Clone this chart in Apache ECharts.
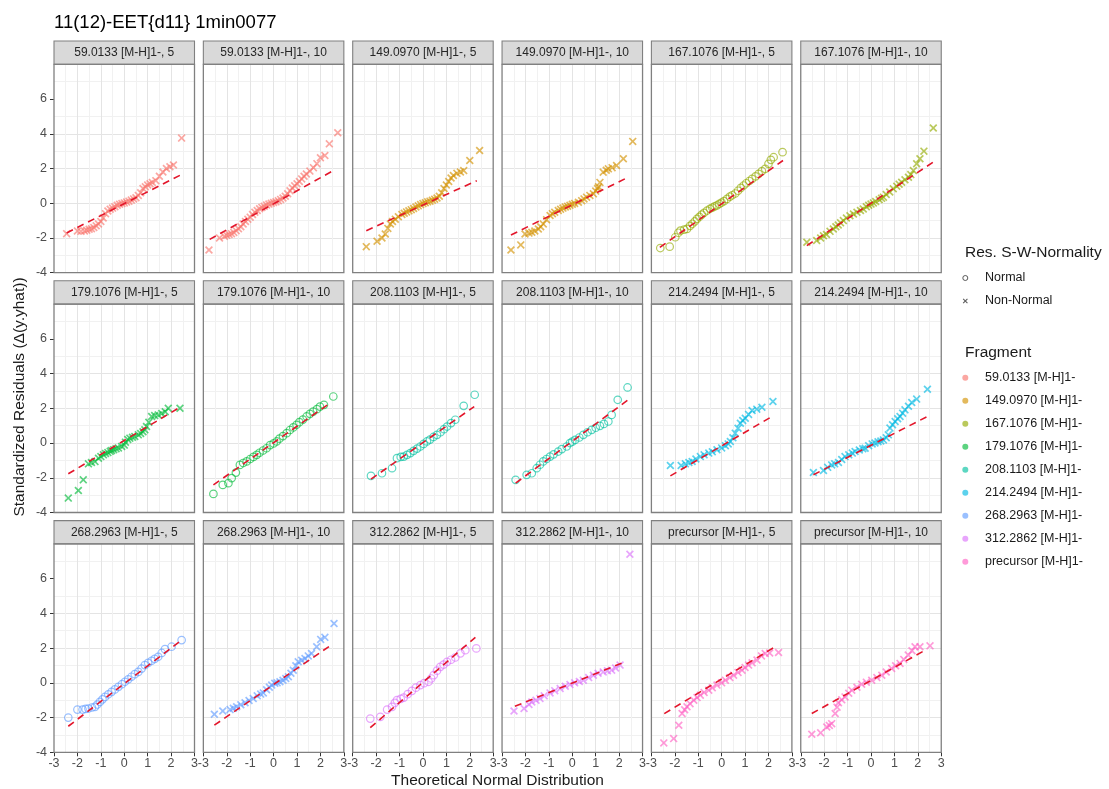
<!DOCTYPE html>
<html><head><meta charset="utf-8">
<script src="https://cdn.jsdelivr.net/npm/echarts@6/dist/echarts.min.js"></script>
<style>html,body{margin:0;padding:0;background:#fff}#c{width:1109px;height:789px}</style>
</head><body><div id="c"></div>
<script>
// ---------------- data ----------------
const chartTitle = '11(12)-EET{d11} 1min0077';
const xAxisTitle = 'Theoretical Normal Distribution';
const yAxisTitle = 'Standardized Residuals (\u0394(y.yhat))';
const fragments = ['59.0133 [M-H]1-','149.0970 [M-H]1-','167.1076 [M-H]1-','179.1076 [M-H]1-','208.1103 [M-H]1-','214.2494 [M-H]1-','268.2963 [M-H]1-','312.2862 [M-H]1-','precursor [M-H]1-'];
const replicates = [5, 10];
const normalityLevels = ['Normal', 'Non-Normal'];
// normality of each panel, panel order: fragment x replicate
const panelNormality = ['Non-Normal','Non-Normal','Non-Normal','Non-Normal','Normal','Non-Normal','Non-Normal','Normal','Normal','Normal','Non-Normal','Non-Normal','Normal','Non-Normal','Normal','Non-Normal','Non-Normal','Non-Normal'];
const xTicks = [-3,-2,-1,0,1,2,3];
const yTicks = [-4,-2,0,2,4,6];

// [theoretical quantile, standardized residual]
const qq_59_5 = [[-2.46,-1.75],[-2.0,-1.6],[-1.85,-1.62],[-1.7,-1.6],[-1.6,-1.55],[-1.5,-1.5],[-1.4,-1.47],[-1.3,-1.4],[-1.2,-1.3],[-1.1,-1.2],[-1.0,-1.05],[-0.9,-0.85],[-0.8,-0.6],[-0.7,-0.45],[-0.6,-0.35],[-0.5,-0.28],[-0.4,-0.2],[-0.3,-0.12],[-0.2,-0.06],[-0.1,-0.02],[0.0,0.02],[0.1,0.07],[0.2,0.12],[0.3,0.18],[0.4,0.25],[0.5,0.32],[0.6,0.45],[0.7,0.6],[0.8,0.85],[0.9,0.95],[1.0,1.05],[1.1,1.12],[1.2,1.2],[1.35,1.3],[1.5,1.55],[1.65,1.8],[1.8,2.0],[1.95,2.1],[2.1,2.2],[2.45,3.75]];
const qq_59_10 = [[-2.76,-2.69],[-2.31,-2.0],[-2.1,-1.9],[-2.0,-1.85],[-1.9,-1.8],[-1.8,-1.75],[-1.7,-1.68],[-1.6,-1.58],[-1.5,-1.47],[-1.4,-1.35],[-1.3,-1.2],[-1.2,-1.05],[-1.1,-0.92],[-1.0,-0.8],[-0.9,-0.65],[-0.8,-0.52],[-0.7,-0.42],[-0.6,-0.32],[-0.5,-0.24],[-0.4,-0.17],[-0.3,-0.1],[-0.2,-0.05],[-0.1,0.0],[0.0,0.04],[0.1,0.08],[0.2,0.14],[0.3,0.22],[0.4,0.3],[0.5,0.4],[0.6,0.55],[0.7,0.72],[0.8,0.88],[0.9,1.0],[1.0,1.12],[1.1,1.25],[1.2,1.4],[1.3,1.55],[1.4,1.68],[1.55,1.85],[1.7,2.05],[1.85,2.28],[2.0,2.62],[2.19,2.75],[2.38,3.42],[2.74,4.06]];
const qq_149_5 = [[-2.42,-2.5],[-1.96,-2.19],[-1.75,-2.0],[-1.61,-1.77],[-1.5,-1.45],[-1.39,-1.2],[-1.3,-1.05],[-1.18,-0.92],[-1.05,-0.78],[-0.9,-0.65],[-0.8,-0.58],[-0.7,-0.5],[-0.6,-0.44],[-0.5,-0.37],[-0.4,-0.3],[-0.3,-0.22],[-0.2,-0.15],[-0.1,-0.08],[0.0,-0.02],[0.1,0.03],[0.2,0.08],[0.3,0.12],[0.4,0.17],[0.5,0.23],[0.6,0.3],[0.7,0.4],[0.8,0.6],[0.9,0.85],[1.0,1.05],[1.1,1.25],[1.2,1.45],[1.3,1.6],[1.45,1.72],[1.6,1.8],[1.74,1.88],[2.0,2.46],[2.42,3.04]];
const qq_149_10 = [[-2.62,-2.69],[-2.2,-2.4],[-2.02,-1.77],[-1.85,-1.72],[-1.73,-1.67],[-1.6,-1.6],[-1.45,-1.48],[-1.35,-1.35],[-1.24,-1.19],[-1.1,-0.95],[-0.95,-0.71],[-0.85,-0.6],[-0.75,-0.52],[-0.6,-0.42],[-0.5,-0.35],[-0.4,-0.28],[-0.3,-0.22],[-0.2,-0.17],[-0.1,-0.12],[0.0,-0.06],[0.1,-0.01],[0.26,0.06],[0.4,0.15],[0.5,0.25],[0.61,0.35],[0.75,0.45],[0.9,0.54],[1.0,0.7],[1.08,0.85],[1.12,0.95],[1.18,1.2],[1.32,1.79],[1.45,1.9],[1.54,1.98],[1.7,2.05],[1.89,2.17],[2.18,2.56],[2.58,3.56]];
const qq_167_5 = [[-2.62,-2.58],[-2.22,-2.5],[-1.98,-1.96],[-1.85,-1.7],[-1.76,-1.58],[-1.6,-1.52],[-1.48,-1.48],[-1.35,-1.3],[-1.25,-1.18],[-1.15,-1.05],[-1.05,-0.9],[-0.95,-0.78],[-0.85,-0.66],[-0.75,-0.55],[-0.62,-0.42],[-0.5,-0.32],[-0.4,-0.25],[-0.3,-0.18],[-0.2,-0.12],[-0.1,-0.04],[0.0,0.04],[0.1,0.12],[0.23,0.25],[0.35,0.38],[0.45,0.46],[0.58,0.56],[0.7,0.72],[0.82,0.88],[0.94,1.02],[1.05,1.15],[1.18,1.28],[1.3,1.4],[1.45,1.55],[1.58,1.69],[1.72,1.85],[1.86,1.98],[2.0,2.27],[2.1,2.5],[2.22,2.65],[2.6,2.94]];
const qq_167_10 = [[-2.74,-2.25],[-2.32,-2.15],[-2.15,-2.0],[-2.03,-1.87],[-1.9,-1.8],[-1.75,-1.62],[-1.61,-1.48],[-1.5,-1.35],[-1.4,-1.25],[-1.3,-1.13],[-1.18,-1.0],[-1.05,-0.85],[-0.9,-0.72],[-0.75,-0.62],[-0.6,-0.52],[-0.45,-0.42],[-0.33,-0.33],[-0.2,-0.2],[-0.1,-0.12],[0.0,-0.05],[0.1,0.02],[0.2,0.1],[0.35,0.2],[0.45,0.28],[0.53,0.35],[0.65,0.5],[0.8,0.65],[0.95,0.83],[1.1,0.98],[1.2,1.1],[1.31,1.21],[1.45,1.35],[1.6,1.5],[1.7,1.65],[1.81,1.88],[1.95,2.27],[2.09,2.56],[2.26,3.0],[2.66,4.33]];
const qq_179_5 = [[-2.39,-3.17],[-1.96,-2.73],[-1.75,-2.12],[-1.53,-1.2],[-1.4,-1.12],[-1.25,-1.07],[-1.1,-0.88],[-1.0,-0.78],[-0.89,-0.68],[-0.8,-0.6],[-0.7,-0.55],[-0.6,-0.48],[-0.54,-0.43],[-0.45,-0.38],[-0.35,-0.33],[-0.25,-0.28],[-0.11,-0.2],[0.0,-0.12],[0.05,0.05],[0.15,0.2],[0.24,0.28],[0.35,0.33],[0.45,0.38],[0.6,0.47],[0.7,0.55],[0.8,0.65],[0.88,0.76],[0.95,0.95],[1.05,1.2],[1.17,1.53],[1.3,1.58],[1.45,1.62],[1.6,1.7],[1.75,1.8],[1.88,2.0],[2.38,2.0]];
const qq_179_10 = [[-2.57,-2.93],[-2.17,-2.41],[-1.93,-2.31],[-1.79,-2.02],[-1.61,-1.7],[-1.44,-1.26],[-1.3,-1.15],[-1.15,-1.06],[-1.0,-0.92],[-0.86,-0.8],[-0.72,-0.68],[-0.6,-0.56],[-0.45,-0.43],[-0.3,-0.3],[-0.15,-0.12],[0.0,-0.02],[0.13,0.09],[0.25,0.25],[0.4,0.4],[0.56,0.57],[0.7,0.75],[0.84,0.9],[0.98,1.05],[1.1,1.2],[1.25,1.35],[1.41,1.53],[1.55,1.68],[1.69,1.81],[1.85,1.95],[1.98,2.1],[2.15,2.2],[2.55,2.68]];
const qq_208_5 = [[-2.22,-1.89],[-1.75,-1.74],[-1.32,-1.45],[-1.11,-0.87],[-0.95,-0.8],[-0.82,-0.78],[-0.68,-0.68],[-0.54,-0.58],[-0.4,-0.45],[-0.25,-0.32],[-0.11,-0.2],[0.03,-0.05],[0.17,0.09],[0.3,0.2],[0.45,0.35],[0.6,0.47],[0.75,0.62],[0.9,0.8],[1.03,0.95],[1.2,1.15],[1.38,1.34],[1.74,2.14],[2.21,2.78]];
const qq_208_10 = [[-2.42,-2.12],[-1.95,-1.83],[-1.73,-1.74],[-1.52,-1.45],[-1.38,-1.25],[-1.24,-1.06],[-1.1,-0.92],[-0.95,-0.78],[-0.8,-0.65],[-0.6,-0.49],[-0.45,-0.35],[-0.24,-0.2],[-0.1,0.0],[0.0,0.08],[0.12,0.18],[0.3,0.32],[0.47,0.47],[0.65,0.62],[0.83,0.76],[1.0,0.88],[1.18,0.99],[1.35,1.1],[1.54,1.24],[1.68,1.62],[1.94,2.49],[2.36,3.2]];
const qq_214_5 = [[-2.19,-1.29],[-1.73,-1.29],[-1.55,-1.2],[-1.4,-1.12],[-1.26,-1.06],[-1.1,-0.92],[-0.91,-0.78],[-0.75,-0.68],[-0.55,-0.58],[-0.4,-0.5],[-0.2,-0.39],[0.0,-0.28],[0.16,-0.16],[0.28,-0.05],[0.37,0.09],[0.48,0.3],[0.58,0.57],[0.7,0.85],[0.8,1.14],[0.9,1.3],[1.01,1.43],[1.15,1.65],[1.3,1.87],[1.5,1.95],[1.72,2.06],[2.19,2.39]];
const qq_214_10 = [[-2.46,-1.7],[-2.03,-1.58],[-1.85,-1.4],[-1.68,-1.26],[-1.55,-1.2],[-1.39,-1.12],[-1.25,-0.95],[-1.11,-0.78],[-0.95,-0.68],[-0.8,-0.58],[-0.68,-0.49],[-0.5,-0.4],[-0.35,-0.33],[-0.25,-0.3],[-0.1,-0.15],[0.05,-0.05],[0.17,0.0],[0.3,0.07],[0.42,0.12],[0.53,0.18],[0.65,0.3],[0.74,0.47],[0.81,0.86],[0.92,1.05],[1.03,1.24],[1.14,1.4],[1.24,1.53],[1.35,1.72],[1.45,1.91],[1.6,2.12],[1.74,2.33],[1.95,2.53],[2.41,3.1]];
const qq_268_5 = [[-2.39,-2.0],[-2.0,-1.54],[-1.78,-1.54],[-1.65,-1.5],[-1.53,-1.48],[-1.38,-1.42],[-1.25,-1.38],[-1.15,-1.25],[-1.04,-1.1],[-0.93,-0.95],[-0.82,-0.81],[-0.68,-0.66],[-0.54,-0.52],[-0.4,-0.38],[-0.25,-0.23],[-0.1,-0.08],[0.03,0.06],[0.17,0.2],[0.31,0.35],[0.45,0.5],[0.6,0.63],[0.74,0.82],[0.88,1.02],[1.02,1.15],[1.17,1.27],[1.3,1.38],[1.45,1.5],[1.6,1.72],[1.74,1.94],[2.02,2.08],[2.45,2.46]];
const qq_268_10 = [[-2.53,-1.81],[-2.17,-1.62],[-1.86,-1.54],[-1.72,-1.46],[-1.58,-1.38],[-1.4,-1.26],[-1.22,-1.15],[-1.05,-1.02],[-0.87,-0.9],[-0.7,-0.75],[-0.55,-0.65],[-0.44,-0.58],[-0.3,-0.4],[-0.18,-0.25],[-0.08,-0.13],[0.05,-0.03],[0.15,0.0],[0.27,0.06],[0.4,0.15],[0.52,0.25],[0.63,0.35],[0.74,0.55],[0.84,0.73],[0.95,0.98],[1.05,1.21],[1.2,1.3],[1.34,1.4],[1.48,1.55],[1.62,1.69],[1.84,2.08],[2.01,2.5],[2.19,2.62],[2.58,3.42]];
const qq_312_5 = [[-2.25,-2.06],[-1.82,-1.96],[-1.53,-1.54],[-1.32,-1.38],[-1.2,-1.15],[-1.11,-1.0],[-0.95,-0.92],[-0.82,-0.85],[-0.65,-0.65],[-0.47,-0.46],[-0.3,-0.28],[-0.11,-0.13],[0.05,-0.02],[0.24,0.06],[0.35,0.25],[0.46,0.44],[0.6,0.7],[0.74,0.92],[0.88,1.05],[1.03,1.21],[1.2,1.33],[1.38,1.46],[1.6,1.7],[1.81,1.88],[2.28,1.98]];
const qq_312_10 = [[-2.49,-1.62],[-2.06,-1.48],[-1.85,-1.25],[-1.73,-1.1],[-1.55,-1.0],[-1.38,-0.9],[-1.2,-0.75],[-0.95,-0.58],[-0.75,-0.45],[-0.52,-0.33],[-0.3,-0.2],[-0.1,-0.1],[0.1,0.0],[0.3,0.08],[0.47,0.15],[0.7,0.3],[0.9,0.44],[1.1,0.55],[1.32,0.63],[1.5,0.7],[1.68,0.73],[1.85,0.85],[2.04,1.02],[2.46,7.4]];
const qq_prec_5 = [[-2.47,-3.46],[-2.05,-3.21],[-1.83,-2.44],[-1.69,-1.77],[-1.58,-1.55],[-1.48,-1.38],[-1.35,-1.2],[-1.19,-1.0],[-1.05,-0.85],[-0.91,-0.71],[-0.75,-0.55],[-0.55,-0.42],[-0.4,-0.28],[-0.2,-0.13],[0.0,0.0],[0.16,0.15],[0.35,0.3],[0.51,0.44],[0.7,0.6],[0.87,0.73],[1.0,0.88],[1.15,1.02],[1.3,1.15],[1.51,1.31],[1.7,1.55],[1.86,1.69],[2.05,1.72],[2.43,1.75]];
const qq_prec_10 = [[-2.53,-2.96],[-2.15,-2.88],[-1.89,-2.54],[-1.78,-2.45],[-1.68,-2.35],[-1.53,-1.77],[-1.45,-1.4],[-1.39,-1.15],[-1.25,-0.98],[-1.11,-0.81],[-0.95,-0.6],[-0.82,-0.42],[-0.6,-0.25],[-0.4,-0.08],[-0.2,0.04],[0.03,0.15],[0.25,0.3],[0.46,0.44],[0.65,0.62],[0.88,0.83],[1.05,0.98],[1.24,1.12],[1.4,1.35],[1.59,1.6],[1.75,1.85],[1.88,2.08],[2.09,2.08],[2.52,2.13]];
const panelPoints = [qq_59_5, qq_59_10, qq_149_5, qq_149_10, qq_167_5, qq_167_10, qq_179_5, qq_179_10, qq_208_5, qq_208_10, qq_214_5, qq_214_10, qq_268_5, qq_268_10, qq_312_5, qq_312_10, qq_prec_5, qq_prec_10];
// reference lines: [x1, y1, x2, y2]
const qqLines = [[-2.46,-1.71,2.5,1.69],[-2.73,-2.08,2.55,1.88],[-2.42,-1.58,2.3,1.3],[-2.62,-1.83,2.39,1.5],[-2.64,-2.54,2.62,2.46],[-2.74,-2.44,2.66,2.37],[-2.39,-1.77,2.38,2.06],[-2.57,-2.41,2.41,2.3],[-2.22,-2.08,2.19,2.1],[-2.42,-2.31,2.39,2.49],[-2.19,-1.89,2.15,1.53],[-2.46,-1.83,2.41,1.53],[-2.39,-2.5,2.45,2.46],[-2.53,-2.44,2.45,2.17],[-2.25,-2.58,2.24,2.62],[-2.45,-1.35,2.25,1.21],[-2.45,-1.77,2.29,2.08],[-2.53,-1.77,2.31,1.88]];

// ---------------- style / layout ----------------
const FONT = '"Liberation Sans", Arial, Helvetica, sans-serif';
const palette = ['#F8766D','#D39200','#93AA00','#00BA38','#00C19F','#00B9E3','#619CFF','#DB72FB','#FF61C3'];
function rgba(hex, a) {
  const n = parseInt(hex.slice(1), 16);
  return 'rgba(' + ((n >> 16) & 255) + ',' + ((n >> 8) & 255) + ',' + (n & 255) + ',' + a + ')';
}
const X_PATH = 'path://M0,1.5L1.5,0L5,3.5L8.5,0L10,1.5L6.5,5L10,8.5L8.5,10L5,6.5L1.5,10L0,8.5L3.5,5Z';
const NCOL = 6;
const L0 = 54, T0 = 64.3, DX = 149.35, DY = 239.8, PW = 140.5, PH = 208.4, SH = 23.3;

const grids = [], xAxes = [], yAxes = [], series = [], graphics = [];
for (let i = 0; i < panelPoints.length; i++) {
  const r = Math.floor(i / NCOL), c = i % NCOL;
  const f = Math.floor(i / 2), rep = replicates[i % 2];
  const left = L0 + c * DX, top = T0 + r * DY;
  const col = palette[f];
  grids.push({ left: left, top: top, width: PW, height: PH, containLabel: false });
  const common = {
    type: 'value', gridIndex: i, axisLine: { show: false, onZero: false },
    splitLine: { show: true, showMinLine: false, showMaxLine: false, lineStyle: { color: '#e4e4e4', width: 1 } },
    minorTick: { show: false, splitNumber: 2 },
    minorSplitLine: { show: true, lineStyle: { color: '#f1f1f1', width: 1 } }
  };
  xAxes.push(Object.assign({}, common, {
    position: 'bottom',
    min: xTicks[0], max: xTicks[xTicks.length - 1], interval: 1,
    axisTick: { show: r === 2, length: 4, customValues: xTicks, lineStyle: { color: '#333333' } },
    axisLabel: { show: r === 2, margin: 5, color: '#4d4d4d', fontSize: 12.5, fontFamily: FONT, customValues: xTicks, showMinLabel: true, showMaxLabel: true }
  }));
  yAxes.push(Object.assign({}, common, {
    position: 'left',
    min: -4, max: 8, interval: 2,
    axisTick: { show: c === 0, length: 4, customValues: yTicks, lineStyle: { color: '#333333' } },
    axisLabel: { show: c === 0, margin: 7, color: '#4d4d4d', fontSize: 12.5, fontFamily: FONT, customValues: yTicks,
      formatter: v => (yTicks.indexOf(v) >= 0 ? String(v) : '') }
  }));
  const isNormal = panelNormality[i] === 'Normal';
  series.push({
    type: 'scatter', name: fragments[f], xAxisIndex: i, yAxisIndex: i,
    data: panelPoints[i], symbol: isNormal ? 'circle' : X_PATH, symbolSize: isNormal ? 7.5 : 8,
    itemStyle: isNormal ? { color: 'rgba(0,0,0,0)', borderColor: rgba(col, 0.8), borderWidth: 1.2 }
                        : { color: rgba(col, 0.8), borderWidth: 0 },
    emphasis: { disabled: true }, silent: true, z: 2
  });
  const ln = qqLines[i];
  series.push({
    type: 'line', name: 'qqline', xAxisIndex: i, yAxisIndex: i,
    data: [[ln[0], ln[1]], [ln[2], ln[3]]], symbol: 'none', silent: true,
    lineStyle: { color: '#e3162b', width: 1.6, type: [7, 5] }, z: 3
  });
  graphics.push({ type: 'rect', shape: { x: left, y: top - SH, width: PW, height: SH },
    style: { fill: '#d9d9d9', stroke: '#808080', lineWidth: 1.1 }, z: 5 });
  graphics.push({ type: 'text', x: left + PW / 2, y: top - SH / 2 + 0.5,
    style: { text: fragments[f] + ', ' + rep, fill: '#262626', font: '12px ' + FONT, align: 'center', verticalAlign: 'middle' }, z: 6 });
  graphics.push({ type: 'rect', shape: { x: left, y: top, width: PW, height: PH },
    style: { fill: 'none', stroke: '#808080', lineWidth: 1.3 }, z: 5 });
}
// empty series used only for the shape legend
series.push({ type: 'scatter', name: normalityLevels[0], data: [], xAxisIndex: 0, yAxisIndex: 0 });
series.push({ type: 'scatter', name: normalityLevels[1], data: [], xAxisIndex: 0, yAxisIndex: 0 });

graphics.push({ type: 'text', x: 497.5, y: 781, style: { text: xAxisTitle, fill: '#1a1a1a', font: '15.5px ' + FONT, align: 'center', verticalAlign: 'middle' } });
graphics.push({ type: 'text', x: 20, y: 397, rotation: Math.PI / 2, style: { text: yAxisTitle, fill: '#1a1a1a', font: '15.5px ' + FONT, align: 'center', verticalAlign: 'middle' } });
graphics.push({ type: 'text', x: 965, y: 253, style: { text: 'Res. S-W-Normality', fill: '#1a1a1a', font: '15.5px ' + FONT, align: 'left', verticalAlign: 'middle' } });
graphics.push({ type: 'text', x: 965, y: 352.7, style: { text: 'Fragment', fill: '#1a1a1a', font: '15.5px ' + FONT, align: 'left', verticalAlign: 'middle' } });

const legendText = { color: '#1a1a1a', fontSize: 12.5, fontFamily: FONT, lineHeight: 14 };
const option = {
  animation: false,
  backgroundColor: '#ffffff',
  title: { text: chartTitle, left: 54, top: 13, padding: 0, textStyle: { fontSize: 18.5, fontWeight: 'normal', color: '#000', fontFamily: FONT } },
  grid: grids, xAxis: xAxes, yAxis: yAxes, series: series,
  legend: [
    { orient: 'vertical', left: 962.3, top: 271, padding: 0, itemGap: 9, itemWidth: 29.4, itemHeight: 5, selectedMode: false, textStyle: legendText,
      data: [
        { name: normalityLevels[0], icon: 'circle', itemStyle: { color: 'rgba(0,0,0,0)', borderColor: '#333', borderWidth: 1 } },
        { name: normalityLevels[1], icon: X_PATH, itemStyle: { color: '#333', borderWidth: 0 } }
      ] },
    { orient: 'vertical', left: 962.3, top: 370.7, padding: 0, itemGap: 9, itemWidth: 29.4, itemHeight: 6, selectedMode: false, textStyle: legendText,
      data: fragments.map((n, k) => ({ name: n, icon: 'circle', itemStyle: { color: rgba(palette[k], 0.8), borderWidth: 0, borderColor: 'rgba(0,0,0,0)' } })) }
  ],
  graphic: graphics
};
const chart = echarts.init(document.getElementById('c'), null, { renderer: 'canvas' });
chart.setOption(option);
</script></body></html>
